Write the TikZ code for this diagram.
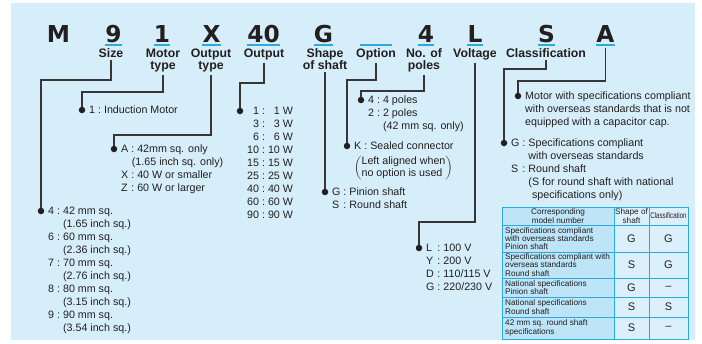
\documentclass[tikz,border=0pt]{standalone}
\usepackage{fontspec}
\setmainfont{Liberation Sans}
\newfontfamily\codefont{DejaVu Sans}
\usepackage{tikz}
\definecolor{panelblue}{RGB}{214,238,250}
\definecolor{cellblue}{RGB}{189,228,247}
\definecolor{ruleblue}{RGB}{41,171,226}
\definecolor{inkgray}{RGB}{35,31,32}
\tikzstyle{codechar}=[inner sep=0pt, anchor=base, font=\codefont\bfseries\fontsize{23.3}{23.3}\selectfont, text=inkgray]
\tikzstyle{codelabel}=[inner sep=0pt, anchor=base, align=center, font=\bfseries\fontsize{12.3}{12}\selectfont, text=inkgray]
\tikzstyle{uline}=[draw=ruleblue, line width=1.8pt]
\tikzstyle{leader}=[draw=inkgray!90, line width=1.1pt, shorten <=2.5pt]
\tikzstyle{dot}=[circle, fill=inkgray, inner sep=0pt, minimum size=6.5pt]
\tikzstyle{item}=[inner sep=0pt, anchor=base west, font=\fontsize{10.7}{13}\selectfont, text=inkgray]
\tikzstyle{tablerule}=[draw=ruleblue, line width=0.9pt]
\tikzstyle{cellhead}=[inner sep=0pt, align=center, font=\fontsize{8.2}{8.4}\selectfont, text=inkgray]
\tikzstyle{cellname}=[inner sep=0pt, anchor=west, align=left, font=\fontsize{8.2}{8.4}\selectfont, text=inkgray]
\tikzstyle{cellcode}=[inner sep=0pt, font=\fontsize{11}{11}\selectfont, text=inkgray]
\newcommand{\kvsep}{\ :\ \mbox{}}
\newcommand{\codechar}[3]{
	\node[codechar] (#1) at (#2) {#3};
	\draw[uline] ([yshift=-2.6pt]#1.base west) -- ([yshift=-2.6pt]#1.base east);}
\newcommand{\listitem}[3]{
	\node[dot] (#1) at (#2) {};
	\node[item] (txt#1) at ([xshift=7pt,yshift=-3.8pt]#1.center) {#3};}

\begin{document}
\begin{tikzpicture}[x=1pt, y=-1pt]
	\useasboundingbox (0,0) rectangle (702,343);
	\fill[panelblue] (11,3) rectangle (695,340);

	% model code
	\node[codechar] (codeM) at (58.5,42) {M};
	\codechar{code9}{113.5,42}{9}
	\codechar{code1}{162,42}{1}
	\codechar{codeX}{211.5,42}{X}
	\codechar{code40}{263.5,42}{40}
	\codechar{codeG}{323.5,42}{G}
	\codechar{codeOpt}{376,42}{\phantom{00}}
	\codechar{code4}{426,42}{4}
	\codechar{codeL}{475,42}{L}
	\codechar{codeS}{546.5,42}{S}
	\codechar{codeA}{605.5,42}{A}

	% labels (two-line ones sit on their last line)
	\node[codelabel] (lblSize) at (111,57.5) {Size};
	\node[codelabel] (lblMotor) at (163,69.5) {Motor\\type};
	\node[codelabel] (lblOtype) at (211,69.5) {Output\\type};
	\node[codelabel] (lblOutput) at (264,57.5) {Output};
	\node[codelabel] (lblShape) at (325,69.5) {Shape\\of shaft};
	\node[codelabel] (lblOption) at (376,57.5) {Option};
	\node[codelabel] (lblPoles) at (424,69.5) {No. of\\poles};
	\node[codelabel] (lblVolt) at (475,57.5) {Voltage};
	\node[codelabel] (lblClass) at (546,57.5) {Classification};

	% choices
	\listitem{dotSize}{41,211}{\begin{tabular}[t]{@{}r@{}c@{}l@{}}
		4&\kvsep&42 mm sq.\\&&(1.65 inch sq.)\\
		6&\kvsep&60 mm sq.\\&&(2.36 inch sq.)\\
		7&\kvsep&70 mm sq.\\&&(2.76 inch sq.)\\
		8&\kvsep&80 mm sq.\\&&(3.15 inch sq.)\\
		9&\kvsep&90 mm sq.\\&&(3.54 inch sq.)\end{tabular}}
	\listitem{dotMotor}{82,110}{1\kvsep Induction Motor}
	\listitem{dotOtype}{114,149}{\begin{tabular}[t]{@{}l@{}c@{}l@{}}
		A&\kvsep&42mm sq. only\\&&\hspace{-0.5em}(1.65 inch sq. only)\\
		X&\kvsep&40 W or smaller\\Z&\kvsep&60 W or larger\end{tabular}}
	\listitem{dotOutput}{240,111}{\begin{tabular}[t]{@{}r@{}c@{}r@{}}
		1&\kvsep&1 W\\3&\kvsep&3 W\\6&\kvsep&6 W\\10&\kvsep&10 W\\15&\kvsep&15 W\\
		25&\kvsep&25 W\\40&\kvsep&40 W\\60&\kvsep&60 W\\90&\kvsep&90 W\end{tabular}}
	\listitem{dotShaft}{325,192}{\begin{tabular}[t]{@{}l@{}c@{}l@{}}
		G&\kvsep&Pinion shaft\\S&\kvsep&Round shaft\end{tabular}}
	\listitem{dotOption}{347,146}{K\kvsep Sealed connector}
	\node[item, anchor=north west] (noteOption) at ([yshift=-6pt]txtdotOption.south west)
		{$\left(\vcenter{\hbox{\fontsize{10.7}{11.5}\selectfont\begin{tabular}{@{}l@{}}Left aligned when\\no option is used\end{tabular}}}\right)$};
	\listitem{dotPoles}{361,100}{\begin{tabular}[t]{@{}l@{}c@{}l@{}}
		4&\kvsep&4 poles\\2&\kvsep&2 poles\\&&(42 mm sq. only)\end{tabular}}
	\listitem{dotVolt}{419,248}{\begin{tabular}[t]{@{}l@{}c@{}l@{}}
		L&\kvsep&100 V\\Y&\kvsep&200 V\\D&\kvsep&110/115 V\\G&\kvsep&220/230 V\end{tabular}}
	\listitem{dotClass}{504,143}{\begin{tabular}[t]{@{}l@{}c@{}l@{}}
		G&\kvsep&Specifications compliant\\&&with overseas standards\\
		S&\kvsep&Round shaft\\&&(S for round shaft with national\\
		&&\hphantom{(}specifications only)\end{tabular}}
	\listitem{dotA}{518,96}{\begin{tabular}[t]{@{}l@{}}
		Motor with specifications compliant\\with overseas standards that is not\\
		equipped with a capacitor cap.\end{tabular}}

	% leaders
	\coordinate (bendSize) at (41,80);
	\coordinate (bendMotor) at (82,92);
	\coordinate (bendOtype) at (114,135);
	\coordinate (bendOutput) at (240,83);
	\coordinate (bendOption) at (347,80);
	\coordinate (bendPoles) at (361,91);
	\coordinate (bendVolt) at (419,222);
	\coordinate (bendClass) at (504,69);
	\coordinate (bendA) at (518,81);
	\draw[leader] (lblSize.south) |- (bendSize) -- (dotSize);
	\draw[leader] (lblMotor.south) |- (bendMotor) -- (dotMotor);
	\draw[leader] (lblOtype.south) |- (bendOtype) -- (dotOtype);
	\draw[leader] (lblOutput.south) |- (bendOutput) -- (dotOutput);
	\draw[leader] (lblShape.south) -- (dotShaft);
	\draw[leader] (lblOption.south) |- (bendOption) -- (dotOption);
	\draw[leader] (lblPoles.south) |- (bendPoles) -- (dotPoles);
	\draw[leader] (lblVolt.south) |- (bendVolt) -- (dotVolt);
	\draw[leader] (lblClass.south) |- (bendClass) -- (dotClass);
	\draw[leader] ([yshift=-3pt]codeA.south) |- (bendA) -- (dotA);

	% table
	\fill[cellblue] (502,207) rectangle (614,339);
	\fill[panelblue!85!white] (614,207) rectangle (688,339);
	\draw[tablerule] (502,207) rectangle (688,339);
	\draw[tablerule] (614,207) -- (614,339);
	\draw[tablerule] (649,207) -- (649,339);
	\foreach \ry in {225,252,278,297,317}
		\draw[tablerule] (502,\ry) -- (688,\ry);
	\node[cellhead] (headName) at (558,216) {Corresponding\\model number};
	\node[cellhead] (headShaft) at (631.5,216) {Shape of\\shaft};
	\node[cellhead] (headClass) at (668.5,216) {\scalebox{0.75}[1]{Classification}};
	\foreach \i/\ry/\txt/\sh/\cl in {
		1/238.5/{Specifications compliant\\with overseas standards\\Pinion shaft}/G/G,
		2/265/{Specifications compliant with\\overseas standards\\Round shaft}/S/G,
		3/287.5/{National specifications\\Pinion shaft}/G/\textendash,
		4/307/{National specifications\\Round shaft}/S/S,
		5/328/{42 mm sq. round shaft\\specifications}/S/\textendash}{
		\node[cellname] (name\i) at (505,\ry) {\txt};
		\node[cellcode] (shaft\i) at (631.5,\ry) {\sh};
		\node[cellcode] (class\i) at (668.5,\ry) {\cl};
	}
\end{tikzpicture}
\end{document}
